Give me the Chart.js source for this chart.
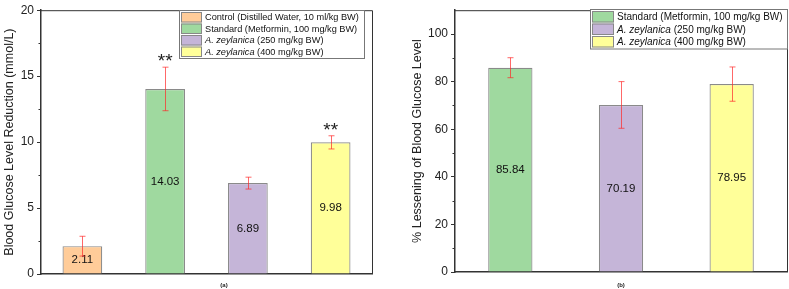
<!DOCTYPE html>
<html>
<head>
<meta charset="utf-8">
<script src="https://cdn.jsdelivr.net/npm/chart.js@4.4.1/dist/chart.umd.min.js"></script>
<style>
    html, body { margin: 0; padding: 0; background: #fff; }
    #wrap { position: relative; width: 789px; height: 289px; }
    .panel { position: absolute; top: 0; height: 289px; }
    #panelA { left: 0; width: 395px; }
    #panelB { left: 395px; width: 394px; }
</style>
</head>
<body>
<div id="wrap">
    <div class="panel" id="panelA"><canvas id="chartA"></canvas></div>
    <div class="panel" id="panelB"><canvas id="chartB"></canvas></div>
</div>
<script>
// ---- data
const groupsA = ['Control (Distilled Water, 10 ml/kg BW)', 'Standard (Metformin, 100 mg/kg BW)', 'A. zeylanica (250 mg/kg BW)', 'A. zeylanica (400 mg/kg BW)'];
const colorsA = ['#FFCC99', '#9FD99F', '#C5B5D8', '#FFFF99'];
const reductionMeans = [2.11, 14.03, 6.89, 9.98];
const reductionErr = [0.75, 1.65, 0.45, 0.5];
const reductionMarks = ['', '**', '', '**'];
const yTicksA = [0, 5, 10, 15, 20];

const groupsB = ['Standard (Metformin, 100 mg/kg BW)', 'A. zeylanica (250 mg/kg BW)', 'A. zeylanica (400 mg/kg BW)'];
const colorsB = ['#9FD99F', '#C5B5D8', '#FFFF99'];
const lesseningMeans = [85.84, 70.19, 78.95];
const lesseningErr = [4.2, 9.8, 7.2];
const yTicksB = [0, 20, 40, 60, 80, 100];

const FONT = '"Liberation Sans", Arial, Helvetica, sans-serif';
const AXIS = '#333333';

// error bars, value labels, asterisks, frame, minor ticks, legend, caption
const extras = {
    id: 'extras',
    afterDatasetsDraw(chart, args, opt) {
        const ctx = chart.ctx;
        const area = chart.chartArea;
        const y = chart.scales.y;
        const meta = chart.getDatasetMeta(0);
        const values = chart.data.datasets[0].data;

        ctx.save();
        // value labels in the middle of the bars
        ctx.fillStyle = '#111';
        ctx.font = '11.5px ' + FONT;
        ctx.textAlign = 'center';
        ctx.textBaseline = 'middle';
        meta.data.forEach((bar, i) => {
            ctx.fillText(values[i].toFixed(2), bar.x, y.getPixelForValue(values[i] / 2));
        });

        // error bars
        ctx.strokeStyle = 'rgba(255, 40, 40, 0.7)';
        ctx.lineWidth = 1;
        meta.data.forEach((bar, i) => {
            const top = y.getPixelForValue(values[i] + opt.errors[i]);
            const bot = y.getPixelForValue(values[i] - opt.errors[i]);
            const x = Math.round(bar.x) + 0.5;
            ctx.beginPath();
            ctx.moveTo(x, top); ctx.lineTo(x, bot);
            ctx.moveTo(x - 3, top); ctx.lineTo(x + 3, top);
            ctx.moveTo(x - 3, bot); ctx.lineTo(x + 3, bot);
            ctx.stroke();
        });

        // significance marks
        if (opt.marks) {
            ctx.fillStyle = '#222';
            ctx.font = '19px ' + FONT;
            ctx.textBaseline = 'bottom';
            meta.data.forEach((bar, i) => {
                if (!opt.marks[i]) return;
                const top = y.getPixelForValue(values[i] + opt.errors[i]);
                ctx.fillText(opt.marks[i], bar.x, top + 4);
            });
        }

        // frame: top and right edges
        ctx.strokeStyle = AXIS;
        ctx.lineWidth = 1;
        ctx.beginPath();
        ctx.moveTo(area.left, area.top + 0.5); ctx.lineTo(area.right + 0.5, area.top + 0.5);
        ctx.lineTo(area.right + 0.5, area.bottom);
        ctx.stroke();

        // minor ticks on the y axis
        const t = opt.ticks;
        for (let k = 0; k < t.length - 1; k++) {
            const py = Math.round(y.getPixelForValue((t[k] + t[k + 1]) / 2)) + 0.5;
            ctx.beginPath();
            ctx.moveTo(area.left - 2.5, py); ctx.lineTo(area.left, py);
            ctx.stroke();
        }

        // legend inside the plot
        const L = opt.legend;
        ctx.fillStyle = '#fff';
        ctx.fillRect(L.x, L.y, L.w, L.rowH * L.labels.length + 2);
        ctx.strokeStyle = '#777';
        ctx.strokeRect(L.x + 0.5, L.y + 0.5, L.w, L.rowH * L.labels.length + 2);
        ctx.textAlign = 'left';
        ctx.textBaseline = 'middle';
        L.labels.forEach((lab, i) => {
            const ry = L.y + 2 + i * L.rowH;
            ctx.fillStyle = L.colors[i];
            ctx.fillRect(L.x + 2, ry, L.swW, L.rowH - 1);
            ctx.strokeStyle = '#888';
            ctx.strokeRect(L.x + 2.5, ry + 0.5, L.swW - 1, L.rowH - 2);
            ctx.fillStyle = '#111';
            let tx = L.x + L.swW + 5;
            const ty = ry + L.rowH / 2;
            const it = 'A. zeylanica';
            if (lab.startsWith(it)) {
                ctx.font = 'italic ' + L.font + 'px ' + FONT;
                ctx.fillText(it, tx, ty);
                tx += ctx.measureText(it).width;
                lab = lab.slice(it.length);
            }
            ctx.font = L.font + 'px ' + FONT;
            ctx.fillText(lab, tx, ty);
        });

        // panel caption
        ctx.fillStyle = '#222';
        ctx.font = 'bold 6px ' + FONT;
        ctx.textAlign = 'center';
        ctx.fillText(opt.caption, opt.captionX, 285);
        ctx.restore();
    }
};

function makeChart(id, groups, colors, means, opts) {
    return new Chart(document.getElementById(id), {
        type: 'bar',
        data: {
            labels: groups,
            datasets: [{
                data: means,
                backgroundColor: colors,
                borderColor: '#8a8a8a',
                borderWidth: 1.2,
                categoryPercentage: 1,
                barPercentage: opts.barPct
            }]
        },
        options: {
            responsive: true,
            maintainAspectRatio: false,
            animation: false,
            layout: { padding: opts.padding },
            plugins: {
                legend: { display: false },
                tooltip: { enabled: false },
                extras: opts.extras
            },
            scales: {
                x: {
                    ticks: { display: false },
                    grid: { display: false },
                    border: { display: true, color: AXIS, width: 1.5 },
                    afterFit: s => { s.height = 0; }
                },
                y: {
                    min: 0,
                    max: opts.max,
                    afterBuildTicks: s => { s.ticks = opts.ticks.map(v => ({ value: v })); },
                    ticks: {
                        color: '#222',
                        padding: 3,
                        font: { family: FONT, size: 12 }
                    },
                    grid: { drawOnChartArea: false, drawTicks: true, tickLength: 4, tickColor: AXIS, tickWidth: 1 },
                    border: { display: true, color: AXIS, width: 1.5 },
                    title: {
                        display: true,
                        text: opts.title,
                        color: '#222',
                        font: { family: FONT, size: 12.5 },
                        padding: { top: opts.titleOff, bottom: 0 }
                    },
                    afterFit: s => { s.width = opts.axisW; }
                }
            }
        },
        plugins: [extras]
    });
}

makeChart('chartA', groupsA, colorsA, reductionMeans, {
    barPct: 0.48,
    padding: { top: 7, right: 23, bottom: 15, left: 0 },
    max: 20,
    ticks: yTicksA,
    axisW: 41,
    titleOff: 2,
    title: 'Blood Glucose Level Reduction (mmol/L)',
    extras: {
        errors: reductionErr,
        marks: reductionMarks,
        ticks: yTicksA,
        caption: '(a)',
        captionX: 224,
        legend: { x: 179, y: 10, w: 185, rowH: 11.5, swW: 21, font: 9.2, labels: groupsA, colors: colorsA }
    }
});

makeChart('chartB', groupsB, colorsB, lesseningMeans, {
    barPct: 0.4,
    padding: { top: 6, right: 2, bottom: 17, left: 0 },
    max: 110,
    ticks: yTicksB,
    axisW: 60,
    titleOff: 15,
    title: '% Lessening of Blood Glucose Level',
    extras: {
        errors: lesseningErr,
        marks: null,
        ticks: yTicksB,
        caption: '(b)',
        captionX: 226,
        legend: { x: 195, y: 9, w: 197, rowH: 12.5, swW: 22, font: 10, labels: groupsB, colors: colorsB }
    }
});
</script>
</body>
</html>
